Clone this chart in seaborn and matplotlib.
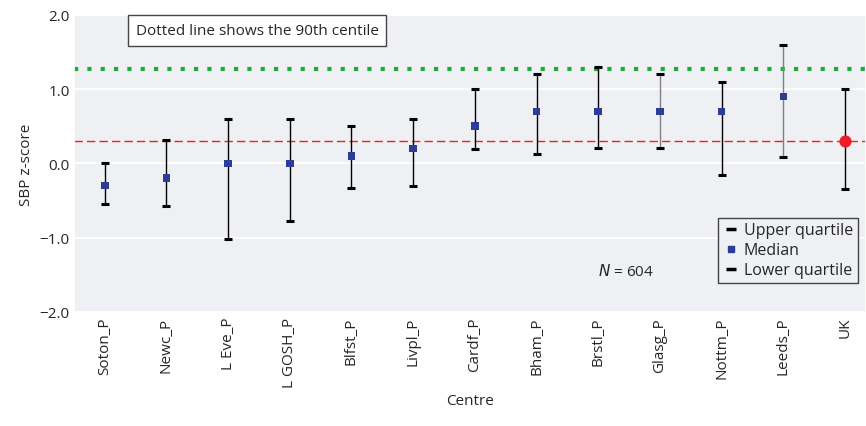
import numpy as np
import pandas as pd
import matplotlib.pyplot as plt
import seaborn as sns
from matplotlib.lines import Line2D

centres = ['Soton_P', 'Newc_P', 'L Eve_P', 'L GOSH_P', 'Blfst_P', 'Livpl_P', 'Cardf_P',
           'Bham_P', 'Brstl_P', 'Glasg_P', 'Nottm_P', 'Leeds_P', 'UK']
median = [-0.3, -0.2, 0.0, 0.0, 0.1, 0.2, 0.5, 0.7, 0.7, 0.7, 0.7, 0.9, 0.3]
upper = [0.0, 0.31, 0.6, 0.6, 0.51, 0.6, 1.0, 1.2, 1.3, 1.2, 1.1, 1.6, 1.0]
lower = [-0.55, -0.57, -1.02, -0.77, -0.33, -0.3, 0.19, 0.13, 0.21, 0.21, -0.16, 0.09, -0.35]
line_col = ['black'] * 9 + ['grey', 'black', 'grey', 'black']
centile90 = 1.27
uk_median = 0.3

df = pd.DataFrame({'Centre': centres, 'median': median, 'upper': upper, 'lower': lower})

sns.set_theme(style='darkgrid', rc={'axes.facecolor': '#eef0f3', 'grid.color': 'white',
                                    'grid.linewidth': 1.3})
plt.rcParams['font.family'] = ['Open Sans', 'DejaVu Sans']

fig, ax = plt.subplots(figsize=(8.66, 4.27), dpi=100)
fig.subplots_adjust(left=0.086, right=1.0, top=0.963, bottom=0.267)

x = np.arange(len(centres))
for i, r in df.iterrows():
    ax.vlines(i, r['lower'], r['upper'], color=line_col[i], lw=1.0, zorder=2)
ax.scatter(x, df['upper'], marker='_', s=28, color='black', linewidths=2.2, zorder=3)
ax.scatter(x, df['lower'], marker='_', s=28, color='black', linewidths=2.2, zorder=3)
sub = df.iloc[:-1]
sns.scatterplot(x=x[:-1], y=sub['median'], marker='s', s=30, color='#2b3d99',
                edgecolor='none', ax=ax, zorder=4)
ax.scatter([x[-1]], [df['median'].iloc[-1]], marker='o', s=60, color='#ee1c25', zorder=4)

ax.axhline(centile90, color='#1aad3c', ls=(0, (1, 2.2)), lw=3, zorder=1)
ax.axhline(uk_median, color='#f02020', ls=(0, (6, 3)), lw=1, zorder=1)

ax.set_xlim(-0.49, 12.34)
ax.set_ylim(-2.0, 2.0)
ax.set_yticks([-2, -1, 0, 1, 2])
ax.set_yticklabels(['\u22122.0', '\u22121.0', '0.0', '1.0', '2.0'], fontsize=11)
ax.set_xticks(x)
ax.set_xticklabels(centres, rotation=90, fontsize=11)
ax.grid(axis='x', visible=False)
ax.set_xlabel('Centre', fontsize=11)
ax.set_ylabel('SBP z-score', fontsize=11)
ax.tick_params(length=0)

ax.text(0.5, 1.79, 'Dotted line shows the 90th centile', fontsize=11, va='center',
        bbox=dict(facecolor='white', edgecolor='#444444', boxstyle='square,pad=0.5'))
ax.text(8.45, -1.45, '$N$ = 604', fontsize=11, ha='center', va='center')

handles = [Line2D([], [], marker='_', color='black', ls='none', markersize=7, mew=2.5),
           Line2D([], [], marker='s', color='#2b3d99', ls='none', markersize=5),
           Line2D([], [], marker='_', color='black', ls='none', markersize=7, mew=2.5)]
ax.legend(handles, ['Upper quartile', 'Median', 'Lower quartile'], loc='lower right',
          bbox_to_anchor=(1.0, 0.07), frameon=True, fancybox=False, edgecolor='#444444',
          framealpha=1, fontsize=11.5, handletextpad=0.3, handlelength=1, borderpad=0.3,
          labelspacing=0.25)

fig.savefig('out.png', dpi=100)
